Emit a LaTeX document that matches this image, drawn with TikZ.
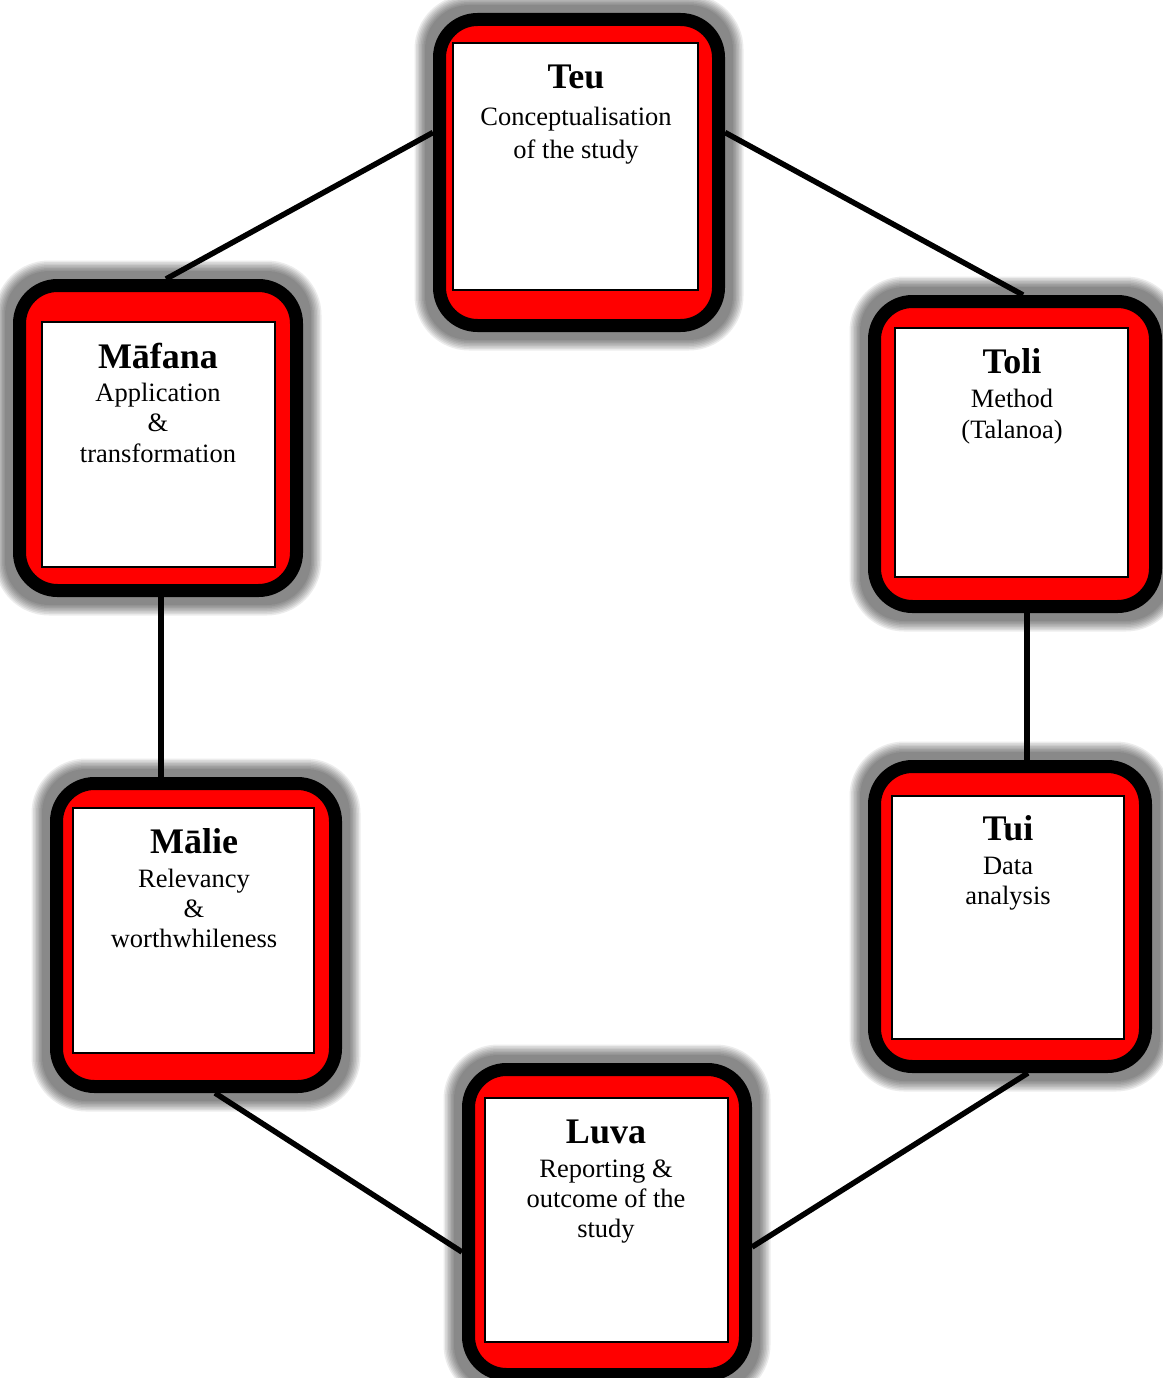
\documentclass[tikz,border=0pt]{standalone}
\usepackage{fontspec}
\setmainfont{Liberation Serif}
\pgfdeclarelayer{lines}
\pgfdeclarelayer{shadow}
\pgfsetlayers{lines,shadow,main}
\definecolor{stagered}{RGB}{255,0,0}
\tikzset{
  stage/.style={rectangle, draw=black, line width=13pt, fill=stagered, rounded corners=38pt, inner sep=0pt},
  panel/.style={rectangle, draw=black, line width=1.3pt, fill=white, inner sep=0pt},
  stagetitle/.style={font=\fontsize{36}{40}\selectfont\bfseries, inner sep=0pt, anchor=base},
  stagebody/.style={font=\fontsize{26.5}{30}\selectfont, inner sep=0pt, anchor=base},
  link/.style={line width=5.5pt, draw=black},
}
\newcommand\stageshadow[1]{%
  \begin{pgfonlayer}{shadow}
    \foreach \d in {8,9.5,...,19}{
      \pgfmathsetmacro\rr{\d+36}
      \fill[black, fill opacity=0.075, rounded corners=\rr pt]
        ([xshift=-\d pt,yshift=-\d pt]#1.south west) rectangle ([xshift=\d pt,yshift=\d pt]#1.north east);
    }
  \end{pgfonlayer}}
\newcommand\bodylines[5]{%
  \foreach \t [count=\i] in {#5}
    \node[stagebody] (#1-\i) at (#2,{#3+(\i-1)*#4}) {\t};}
\begin{document}
\begin{tikzpicture}[x=1pt,y=-1pt]
\useasboundingbox (0,0) rectangle (1162,1378);
% boxes
\node[stage, minimum width=279pt, minimum height=306pt] (teu) at (579,172.5) {};
\node[stage, minimum width=277pt, minimum height=305pt] (mafana) at (158,438) {};
\node[stage, minimum width=281pt, minimum height=305pt] (toli) at (1015,454) {};
\node[stage, minimum width=271pt, minimum height=300pt] (tui) at (1010,916.5) {};
\node[stage, minimum width=279pt, minimum height=303pt] (malie) at (196,935) {};
\node[stage, minimum width=277pt, minimum height=305pt] (luva) at (607,1222) {};
\stageshadow{teu}\stageshadow{mafana}\stageshadow{toli}
\stageshadow{tui}\stageshadow{malie}\stageshadow{luva}
% white panels
\node[panel, minimum width=245pt, minimum height=247pt] (teu-p) at (575.5,166.5) {};
\node[panel, minimum width=233pt, minimum height=245pt] (mafana-p) at (158.5,444.5) {};
\node[panel, minimum width=233pt, minimum height=249pt] (toli-p) at (1011.5,452.5) {};
\node[panel, minimum width=232pt, minimum height=243pt] (tui-p) at (1008,917.5) {};
\node[panel, minimum width=241pt, minimum height=245pt] (malie-p) at (193.5,930.5) {};
\node[panel, minimum width=243pt, minimum height=244pt] (luva-p) at (606.5,1220) {};
% texts
\node[stagetitle] (teu-t) at (576,89) {Teu};
\bodylines{teu}{576}{126}{32}{Conceptualisation, of the study}
\node[stagetitle] (mafana-t) at (158,368) {Māfana};
\bodylines{mafana}{158}{401}{30.5}{Application, \&, transformation}
\node[stagetitle] (toli-t) at (1012,373) {Toli};
\bodylines{toli}{1012}{407}{31}{Method, (Talanoa)}
\node[stagetitle] (tui-t) at (1008,840) {Tui};
\bodylines{tui}{1008}{874}{30}{Data, analysis}
\node[stagetitle] (malie-t) at (194,853) {Mālie};
\bodylines{malie}{194}{887}{30}{Relevancy, \&, worthwhileness}
\node[stagetitle] (luva-t) at (606,1143) {Luva};
\bodylines{luva}{606}{1177}{30}{Reporting \&, outcome of the, study}
% connectors
\begin{pgfonlayer}{lines}
\draw[link] ([yshift=40pt]teu.west) -- ([xshift=8pt]mafana.north);
\draw[link] ([yshift=40pt]teu.east) -- ([xshift=8pt]toli.north);
\draw[link] ([xshift=3pt]mafana.south) -- ([xshift=3pt]mafana.south |- malie.north);
\draw[link] ([xshift=12pt]toli.south) -- ([xshift=12pt]toli.south |- tui.north);
\draw[link] ([xshift=19pt]malie.south) -- ([yshift=-30pt]luva.west);
\draw[link] ([xshift=18pt]tui.south) -- ([yshift=-25pt]luva.east);
\end{pgfonlayer}
\end{tikzpicture}
\end{document}
